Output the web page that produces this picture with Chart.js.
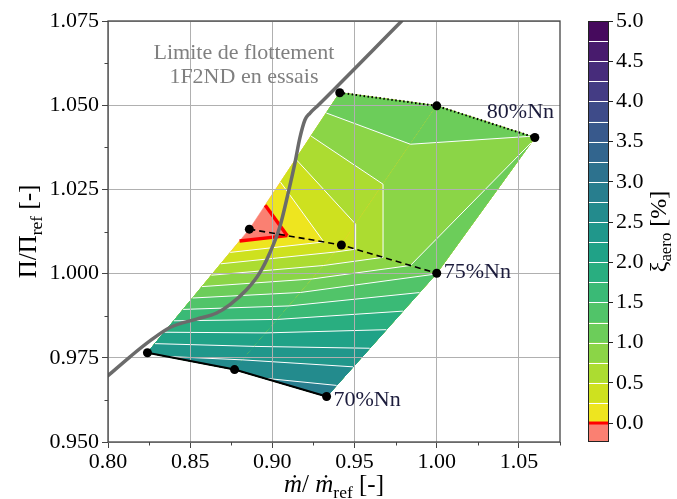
<!DOCTYPE html>
<html>
<head>
<meta charset="utf-8">
<script src="https://cdn.jsdelivr.net/npm/chart.js@4.4.1/dist/chart.umd.min.js"></script>
<style>
  body { margin: 0; background: #fff; }
  #wrap { position: relative; width: 677px; height: 499px; }
  #mapChart { position: absolute; left: 0; top: 0; }
  #barChart { position: absolute; left: 560px; top: 0; }
</style>
</head>
<body>
<div id="wrap">
  <canvas id="mapChart" width="677" height="499"></canvas>
  <canvas id="barChart" width="117" height="499"></canvas>
</div>
<script>
// ─── Data ───────────────────────────────────────────
const speedNames = ['70%Nn', '75%Nn', '80%Nn'];

const flow70 = [0.824, 0.877, 0.933];
const pr70   = [0.9765, 0.9715, 0.9635];
const xi70   = [2.45, 2.68, 2.90];

const flow75 = [0.886, 0.942, 1.000];
const pr75   = [1.0132, 1.0085, 1.0001];
const xi75   = [-0.26, 0.37, 1.24];

const flow80 = [0.941, 1.000, 1.0597];
const pr80   = [1.0537, 1.0498, 1.0404];
const xi80   = [1.22, 1.24, 0.99];

// surge limit seen on the 1F2ND tests
const surgeFlow = [0.800, 0.8134, 0.8255, 0.8377, 0.8539, 0.8661, 0.8742, 0.8843, 0.8924, 0.8985, 0.9046, 0.9096, 0.9137, 0.9167, 0.9198, 0.9228, 0.9279, 0.9787];
const surgePr   = [0.9697, 0.9753, 0.9800, 0.9840, 0.9865, 0.9883, 0.9908, 0.9952, 1.0003, 1.0062, 1.0140, 1.0239, 1.0328, 1.0402, 1.0456, 1.0476, 1.0500, 1.0750];

const xiLevels = [0, 0.25, 0.5, 0.75, 1.0, 1.25, 1.5, 1.75, 2.0, 2.25, 2.5, 2.75, 3.0, 3.25, 3.5, 3.75, 4.0, 4.25, 4.5, 4.75, 5.0];
const xTicks  = [0.80, 0.85, 0.90, 0.95, 1.00, 1.05];
const yTicks  = [0.950, 0.975, 1.000, 1.025, 1.050, 1.075];
const cbTicks = [0.0, 0.5, 1.0, 1.5, 2.0, 2.5, 3.0, 3.5, 4.0, 4.5, 5.0];

// text anchors (data coords)
const surgeNote = { x: 0.8827, y: [1.0655, 1.0584], lines: ['Limite de flottement', '1F2ND en essais'] };
const speedLabelX = [0.9372, 1.0043, 1.0305];
const speedLabelY = [0.9623, 1.0003, 1.0480];

// ─── Helpers ────────────────────────────────────────
const SERIF = "'Liberation Serif', 'DejaVu Serif', serif";
const UNDER = '#fa8072';
const VIRIDIS = ['#440154','#471365','#482475','#463480','#414487','#3b528b','#355f8d','#2f6c8e','#2a788e','#25848e',
                 '#21918c','#1e9c89','#22a884','#2fb47c','#44bf70','#5ec962','#7ad151','#9bd93c','#bddf26','#dfe318','#fde725'];

function hex2rgb(h) { return [1, 3, 5].map(i => parseInt(h.slice(i, i + 2), 16)); }
function viridis(t) {
  t = Math.max(0, Math.min(1, t));
  const f = t * (VIRIDIS.length - 1), i = Math.min(VIRIDIS.length - 2, Math.floor(f)), u = f - i;
  const a = hex2rgb(VIRIDIS[i]), b = hex2rgb(VIRIDIS[i + 1]);
  return 'rgb(' + a.map((c, k) => Math.round(c + u * (b[k] - c))).join(',') + ')';
}
const lvMin = xiLevels[0], lvMax = xiLevels[xiLevels.length - 1];
function bandColor(k) {
  const mid = (xiLevels[k] + xiLevels[k + 1]) / 2;
  return viridis(1 - (mid - lvMin) / (lvMax - lvMin));
}

// quad cells of the 3x3 operating map
const rows = [[flow70, pr70, xi70], [flow75, pr75, xi75], [flow80, pr80, xi80]];
const node = (r, c) => ({ x: rows[r][0][c], y: rows[r][1][c], v: rows[r][2][c] });
const cells = [];
for (let r = 0; r < 2; r++)
  for (let c = 0; c < 2; c++)
    cells.push([node(r, c), node(r, c + 1), node(r + 1, c + 1), node(r + 1, c)]);

// region v >= L inside a quad (marching squares, saddle decided by centre value)
function superLevel(cell, L) {
  const seq = [];
  cell.forEach((p, i) => {
    const q = cell[(i + 1) % cell.length];
    const pin = p.v >= L, qin = q.v >= L;
    if (pin) seq.push({ x: p.x, y: p.y, type: 'v' });
    if (pin !== qin) {
      const t = (L - p.v) / (q.v - p.v);
      seq.push({ x: p.x + t * (q.x - p.x), y: p.y + t * (q.y - p.y), type: pin ? 'out' : 'in' });
    }
  });
  if (!seq.some(s => s.type !== 'v')) return { polys: seq.length ? [seq] : [], segs: [] };
  const s0 = seq.findIndex(s => s.type === 'in');
  const r = seq.slice(s0).concat(seq.slice(0, s0));
  const runs = [];
  r.forEach(s => { if (s.type === 'in') runs.push([s]); else runs[runs.length - 1].push(s); });
  const centre = cell.reduce((a, p) => a + p.v, 0) / cell.length;
  if (runs.length === 1 || centre >= L) {
    return { polys: [r], segs: runs.map((run, k) => [run[run.length - 1], runs[(k + 1) % runs.length][0]]) };
  }
  return { polys: runs, segs: runs.map(run => [run[run.length - 1], run[0]]) };
}

function drawSubLabel(ctx, parts, x, y, size, align) {
  // parts: [[text, isSub, italic]]
  const widths = parts.map(([t, sub, it]) => {
    ctx.font = (it ? 'italic ' : '') + (sub ? size * 0.7 : size) + 'px ' + SERIF;
    return ctx.measureText(t).width;
  });
  const total = widths.reduce((a, b) => a + b, 0);
  let cx = align === 'center' ? x - total / 2 : x;
  parts.forEach(([t, sub, it], i) => {
    ctx.font = (it ? 'italic ' : '') + (sub ? size * 0.7 : size) + 'px ' + SERIF;
    ctx.fillText(t, cx, sub ? y + size * 0.22 : y);
    cx += widths[i];
  });
}

// ─── Plugins ────────────────────────────────────────
const contourPlugin = {
  id: 'contourFill',
  beforeDraw(chart) {
    const { ctx, chartArea: a, scales: { x, y } } = chart;
    const path = pts => {
      ctx.beginPath();
      pts.forEach((p, i) => {
        const X = x.getPixelForValue(p.x), Y = y.getPixelForValue(p.y);
        i ? ctx.lineTo(X, Y) : ctx.moveTo(X, Y);
      });
      ctx.closePath();
    };
    ctx.save();
    ctx.beginPath(); ctx.rect(a.left, a.top, a.right - a.left, a.bottom - a.top); ctx.clip();
    ctx.lineWidth = 0.6; ctx.lineJoin = 'round';
    cells.forEach(cell => {
      path(cell); ctx.fillStyle = UNDER; ctx.strokeStyle = UNDER; ctx.fill(); ctx.stroke();
      for (let k = 0; k < xiLevels.length - 1; k++) {
        superLevel(cell, xiLevels[k]).polys.forEach(poly => {
          path(poly); ctx.fillStyle = bandColor(k); ctx.strokeStyle = bandColor(k); ctx.fill(); ctx.stroke();
        });
      }
    });
    // iso-lines: white, zero level in red on top
    const seg = (s, colour, w) => {
      ctx.beginPath();
      ctx.moveTo(x.getPixelForValue(s[0].x), y.getPixelForValue(s[0].y));
      ctx.lineTo(x.getPixelForValue(s[1].x), y.getPixelForValue(s[1].y));
      ctx.strokeStyle = colour; ctx.lineWidth = w; ctx.stroke();
    };
    ctx.lineCap = 'butt';
    for (let k = 1; k < xiLevels.length; k++)
      cells.forEach(cell => superLevel(cell, xiLevels[k]).segs.forEach(s => seg(s, '#ffffff', 1)));
    cells.forEach(cell => superLevel(cell, xiLevels[0]).segs.forEach(s => seg(s, '#ff0000', 3.4)));
    ctx.restore();
  },
  afterDraw(chart) {
    const { ctx, chartArea: a, scales: { x, y } } = chart;
    ctx.save();
    // minor ticks
    ctx.strokeStyle = '#444'; ctx.lineWidth = 1;
    for (let v = 0.825; v < 1.08; v += 0.05) {
      const X = Math.round(x.getPixelForValue(v)) + 0.5;
      ctx.beginPath(); ctx.moveTo(X, a.bottom); ctx.lineTo(X, a.bottom + 3.5); ctx.stroke();
    }
    for (let v = 0.9625; v < 1.075; v += 0.025) {
      const Y = Math.round(y.getPixelForValue(v)) + 0.5;
      ctx.beginPath(); ctx.moveTo(a.left, Y); ctx.lineTo(a.left - 3.5, Y); ctx.stroke();
    }
    // spines
    ctx.lineWidth = 1.3;
    ctx.strokeRect(a.left, a.top, a.right - a.left, a.bottom - a.top);

    // notes
    ctx.fillStyle = '#808080'; ctx.font = '22px ' + SERIF;
    ctx.textAlign = 'center'; ctx.textBaseline = 'middle';
    surgeNote.lines.forEach((t, i) => ctx.fillText(t, x.getPixelForValue(surgeNote.x), y.getPixelForValue(surgeNote.y[i])));
    ctx.fillStyle = '#1c1c3c'; ctx.textAlign = 'left';
    speedNames.forEach((t, i) => ctx.fillText(t, x.getPixelForValue(speedLabelX[i]), y.getPixelForValue(speedLabelY[i])));

    // axis titles
    ctx.fillStyle = '#000'; ctx.textBaseline = 'alphabetic'; ctx.textAlign = 'left';
    drawSubLabel(ctx, [['ṁ', false, true], ['/ ', false, false], ['ṁ', false, true], ['ref', true, false], [' [-]', false, false]],
      (a.left + a.right) / 2, 492, 25, 'center');
    ctx.translate(36, (a.top + a.bottom) / 2);
    ctx.rotate(-Math.PI / 2);
    drawSubLabel(ctx, [['Π/Π', false, false], ['ref', true, false], [' [-]', false, false]], 0, 0, 25, 'center');
    ctx.restore();
  }
};

const colorbarPlugin = {
  id: 'colorbarDeco',
  afterDatasetsDraw(chart) {
    const { ctx, chartArea: a, scales: { y } } = chart;
    ctx.save();
    xiLevels.forEach((v, k) => {
      if (k === 0 || k === xiLevels.length - 1) return;
      const Y = Math.round(y.getPixelForValue(v)) + 0.5;
      ctx.beginPath(); ctx.moveTo(a.left, Y); ctx.lineTo(a.right, Y);
      ctx.strokeStyle = '#ffffff'; ctx.lineWidth = 1; ctx.stroke();
    });
    const Y0 = y.getPixelForValue(xiLevels[0]);
    ctx.beginPath(); ctx.moveTo(a.left, Y0); ctx.lineTo(a.right, Y0);
    ctx.strokeStyle = '#ff0000'; ctx.lineWidth = 3; ctx.stroke();
    ctx.strokeStyle = '#222'; ctx.lineWidth = 1;
    ctx.strokeRect(a.left + 0.5, a.top + 0.5, a.right - a.left - 1, a.bottom - a.top - 1);
    ctx.restore();
  },
  afterDraw(chart) {
    const { ctx, chartArea: a } = chart;
    ctx.save();
    ctx.fillStyle = '#000'; ctx.textBaseline = 'alphabetic'; ctx.textAlign = 'left';
    ctx.translate(106, (a.top + a.bottom) / 2);
    ctx.rotate(-Math.PI / 2);
    drawSubLabel(ctx, [['ξ', false, false], ['aero', true, false], [' [%]', false, false]], 0, 0, 24, 'center');
    ctx.restore();
  }
};

// ─── Operating map ──────────────────────────────────
const pts = (xs, ys) => xs.map((v, i) => ({ x: v, y: ys[i] }));
const speedStyle = (xs, ys, dash, w) => ({
  data: pts(xs, ys), showLine: true, borderColor: '#000', borderWidth: w, borderDash: dash,
  pointRadius: 4.5, pointBackgroundColor: '#000', pointBorderWidth: 0, pointHoverRadius: 4.5
});

const tickFont = { family: SERIF, size: 22 };

new Chart(document.getElementById('mapChart'), {
  type: 'scatter',
  data: {
    datasets: [
      speedStyle(flow70, pr70, [], 2),
      speedStyle(flow75, pr75, [6, 4], 1.6),
      speedStyle(flow80, pr80, [1.5, 2.5], 2),
      { data: pts(surgeFlow, surgePr), showLine: true, borderColor: '#6b6b6b', borderWidth: 3.5,
        pointRadius: 0, cubicInterpolationMode: 'monotone', borderCapStyle: 'round', borderJoinStyle: 'round' }
    ]
  },
  options: {
    responsive: false, animation: false, devicePixelRatio: 1,
    layout: { padding: { left: 0, right: 117, top: 21, bottom: 0 } },
    plugins: { legend: { display: false }, tooltip: { enabled: false } },
    scales: {
      x: {
        type: 'linear', min: 0.80, max: 1.075,
        afterBuildTicks: s => { s.ticks = xTicks.map(v => ({ value: v })); },
        afterFit: s => { s.height = 57; },
        ticks: { font: tickFont, color: '#000', padding: 1, maxRotation: 0, callback: v => v.toFixed(2) },
        grid: { color: '#b0b0b0', lineWidth: 1, tickLength: 6, tickColor: '#444' },
        border: { display: false }
      },
      y: {
        type: 'linear', min: 0.95, max: 1.075,
        afterBuildTicks: s => { s.ticks = yTicks.map(v => ({ value: v })); },
        afterFit: s => { s.width = 108; },
        ticks: { font: tickFont, color: '#000', padding: 3, callback: v => v.toFixed(3) },
        grid: { color: '#b0b0b0', lineWidth: 1, tickLength: 6, tickColor: '#444' },
        border: { display: false }
      }
    }
  },
  plugins: [contourPlugin]
});

// ─── Colour bar ─────────────────────────────────────
const cbMin = -0.236;
const cbSets = [{ data: [[cbMin, xiLevels[0]]], backgroundColor: UNDER }];
for (let k = 0; k < xiLevels.length - 1; k++)
  cbSets.push({ data: [[xiLevels[k], xiLevels[k + 1]]], backgroundColor: bandColor(k) });
cbSets.forEach(d => Object.assign(d, { grouped: false, barPercentage: 1, categoryPercentage: 1, borderWidth: 0 }));

new Chart(document.getElementById('barChart'), {
  type: 'bar',
  data: { labels: [''], datasets: cbSets },
  options: {
    responsive: false, animation: false, devicePixelRatio: 1,
    layout: { padding: { left: 28, right: 0, top: 21, bottom: 57 } },
    plugins: { legend: { display: false }, tooltip: { enabled: false } },
    scales: {
      x: { display: false },
      y: {
        position: 'right', min: cbMin, max: 5.0,
        afterBuildTicks: s => { s.ticks = cbTicks.map(v => ({ value: v })); },
        afterFit: s => { s.width = 68; },
        ticks: { font: tickFont, color: '#000', padding: 3, callback: v => v.toFixed(1) },
        grid: { drawOnChartArea: false, tickLength: 4, tickColor: '#222' },
        border: { display: false }
      }
    }
  },
  plugins: [colorbarPlugin]
});
</script>
</body>
</html>
